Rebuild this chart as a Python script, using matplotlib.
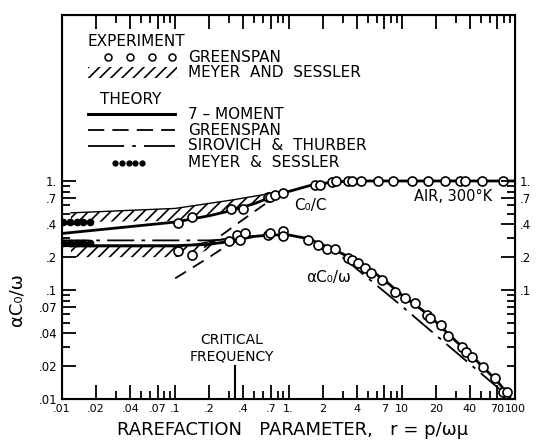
import matplotlib
matplotlib.use('Agg')
import matplotlib.pyplot as plt
from matplotlib.patches import Rectangle
from matplotlib.ticker import FixedLocator, NullFormatter

plt.rcParams['font.family'] = 'DejaVu Sans'
plt.rcParams['hatch.linewidth'] = 1.2

# Greenspan experiment (circles)
exp_c_r = [0.106, 0.14, 0.31, 0.40, 0.66, 0.69, 0.76, 0.9, 1.71, 1.89, 2.4, 2.65,
           3.37, 3.6, 4.4, 6.2, 8.4, 12.2, 17.2, 24, 33, 36.5, 51, 79]
exp_c_y = [0.41, 0.47, 0.55, 0.55, 0.72, 0.71, 0.74, 0.77, 0.92, 0.92, 0.98, 0.99,
           1.0, 1.0, 1.0, 1.0, 1.0, 1.0, 1.0, 1.0, 1.0, 1.0, 1.0, 1.0]
exp_a_r = [0.106, 0.14, 0.30, 0.35, 0.37, 0.41, 0.66, 0.68, 0.9, 0.9, 1.5, 1.83, 2.2,
           2.6, 3.37, 3.6, 4.1, 4.7, 5.4, 6.7, 8.7, 10.6, 13.1, 16.7, 17.8, 22, 25.6,
           33.8, 36.9, 41.5, 52.5, 66.5, 78, 85]
exp_a_y = [0.23, 0.21, 0.28, 0.32, 0.29, 0.33, 0.32, 0.33, 0.35, 0.31, 0.29, 0.26, 0.24,
           0.236, 0.195, 0.19, 0.176, 0.158, 0.142, 0.123, 0.096, 0.085, 0.076, 0.059,
           0.055, 0.048, 0.038, 0.030, 0.027, 0.0245, 0.0195, 0.0155, 0.0115, 0.0115]

# 7-moment theory
mom_c_r = [0.01, 0.03, 0.1, 0.2, 0.3, 0.5, 0.7, 1.0, 1.5, 2.0, 3.0, 5.0, 100]
mom_c_y = [0.33, 0.37, 0.42, 0.48, 0.53, 0.62, 0.71, 0.8, 0.9, 0.95, 0.99, 1.0, 1.0]
mom_a_r = [0.01, 0.1, 0.2, 0.3, 0.5, 0.7, 1.0, 1.5, 2.0, 3.0, 4.0, 5.0, 7.0, 10, 15,
           20, 30, 40, 50, 70, 90]
mom_a_y = [0.255, 0.255, 0.262, 0.28, 0.31, 0.32, 0.32, 0.295, 0.26, 0.215, 0.182,
           0.158, 0.124, 0.09, 0.066, 0.051, 0.034, 0.026, 0.0205, 0.0145, 0.0105]

# Greenspan theory (dashed)
gs_c_r = [0.18, 0.28, 0.37, 0.52, 0.7, 1.0]
gs_c_y = [0.245, 0.34, 0.42, 0.54, 0.67, 0.8]
gs_a_r = [0.1, 0.2, 0.29, 0.45, 0.7]
gs_a_y = [0.128, 0.20, 0.258, 0.31, 0.32]

# Sirovich & Thurber (dash-dot)
sir_lo_r = [0.01, 0.2, 0.35]
sir_lo_y = [0.285, 0.285, 0.295]
sir_hi_r = [3, 9, 79]
sir_hi_y = [0.2, 0.078, 0.0115]

# Meyer & Sessler theory (dots)
ms_r = [0.0102, 0.0118, 0.0136, 0.0153, 0.0177]
ms_c_y = [0.42, 0.42, 0.42, 0.42, 0.42]
ms_a_y = [0.268, 0.268, 0.268, 0.268, 0.268]

# Meyer and Sessler experiment (hatched bands)
band_c_r = [0.012, 0.1, 0.32, 0.56, 0.9]
band_c_hi = [0.51, 0.56, 0.67, 0.74, 0.8]
band_c_lo = [0.42, 0.43, 0.54, 0.66, 0.77]
band_a_r = [0.012, 0.1, 0.16, 0.3]
band_a_hi = [0.25, 0.25, 0.265, 0.3]
band_a_lo = [0.2, 0.2, 0.215, 0.28]

crit_r = 0.34

x_ticks = [0.01, 0.02, 0.04, 0.07, 0.1, 0.2, 0.4, 0.7, 1, 2, 4, 7, 10, 20, 40, 70, 100]
x_labels = ['.01', '.02', '.04', '.07', '.1', '.2', '.4', '.7', '1.', '2', '4', '7',
            '10', '20', '40', '70', '100']
x_minor = [0.03, 0.05, 0.06, 0.08, 0.09, 0.3, 0.5, 0.6, 0.8, 0.9, 3, 5, 6, 8, 9,
           30, 50, 60, 80, 90]
y_ticks = [0.01, 0.02, 0.04, 0.07, 0.1, 0.2, 0.4, 0.7, 1]
y_labels = ['.01', '.02', '.04', '.07', '.1', '.2', '.4', '.7', '1.']
y_minor = [0.03, 0.05, 0.06, 0.08, 0.09, 0.3, 0.5, 0.6, 0.8, 0.9]
yr_ticks = [0.1, 0.2, 0.4, 0.7, 1]
yr_labels = ['.1', '.2', '.4', '.7', '1.']
yr_minor = [0.02, 0.03, 0.04, 0.05, 0.06, 0.07, 0.08, 0.09, 0.3, 0.5, 0.6, 0.8, 0.9]

fig = plt.figure(figsize=(5.38, 4.48), dpi=100)
ax = fig.add_axes([62 / 538, 1 - 399 / 448, 453 / 538, 384 / 448])
ax.set_xscale('log')
ax.set_yscale('log')

# hatched bands
for r, lo, hi in [(band_c_r, band_c_lo, band_c_hi), (band_a_r, band_a_lo, band_a_hi)]:
    ax.fill_between(r, lo, hi, facecolor='none', edgecolor='k', hatch='///', linewidth=0)
    ax.plot(r, hi, 'k-', lw=1)

ax.plot(mom_c_r, mom_c_y, 'k-', lw=2)
ax.plot(mom_a_r, mom_a_y, 'k-', lw=2)
ax.plot(gs_c_r, gs_c_y, 'k', lw=1.3, dashes=(7, 4.5))
ax.plot(gs_a_r, gs_a_y, 'k', lw=1.3, dashes=(7, 4.5))
ax.plot(sir_lo_r, sir_lo_y, 'k', lw=1.3, dashes=(15, 4, 2, 4))
ax.plot(sir_hi_r, sir_hi_y, 'k', lw=1.3, dashes=(15, 4, 2, 4))
ax.plot(ms_r, ms_c_y, 'ko', ms=4.5, ls='none')
ax.plot(ms_r, ms_a_y, 'ko', ms=4.5, ls='none')
ax.plot(exp_c_r, exp_c_y, 'o', mfc='white', mec='k', ms=6.5, mew=1.2, ls='none', zorder=5)
ax.plot(exp_a_r, exp_a_y, 'o', mfc='white', mec='k', ms=6.5, mew=1.2, ls='none', zorder=5)
ax.plot([crit_r, crit_r], [0.01, 0.02], 'k-', lw=1.5)

ax.text(1.55, 0.6, 'C₀/C', fontsize=11, ha='center', va='center')
ax.text(2.25, 0.13, 'αC₀/ω', fontsize=11, ha='center', va='center')
ax.text(0.949, 0.527, 'AIR, 300°K', fontsize=10.5, ha='right', va='center',
        transform=ax.transAxes)
ax.text(0.375, 0.133, 'CRITICAL\nFREQUENCY', fontsize=10, ha='center', va='center',
        transform=ax.transAxes, linespacing=1.2)

# legend drawn by hand
tA = ax.transAxes
fs = 11
ax.text(0.057, 0.932, 'EXPERIMENT', fontsize=fs, va='center', transform=tA)
ax.plot([0.1015, 0.150, 0.1987, 0.243], [0.8906] * 4, 'o', mfc='white', mec='k', ms=5,
        mew=1.1, transform=tA)
ax.text(0.278, 0.8906, 'GREENSPAN', fontsize=fs, va='center', transform=tA)
ax.add_patch(Rectangle((0.057, 0.836), 0.197, 0.029, transform=tA, facecolor='none',
                       edgecolor='k', hatch='///', lw=0))
ax.text(0.278, 0.849, 'MEYER  AND  SESSLER', fontsize=fs, va='center', transform=tA)
ax.text(0.084, 0.781, 'THEORY', fontsize=fs, va='center', transform=tA)
ax.plot([0.057, 0.249], [0.742, 0.742], 'k-', lw=2.2, transform=tA)
ax.text(0.278, 0.742, '7 – MOMENT', fontsize=fs, va='center', transform=tA)
ax.plot([0.057, 0.249], [0.7005, 0.7005], 'k', lw=1.3, dashes=(9, 4.5), transform=tA)
ax.text(0.278, 0.7005, 'GREENSPAN', fontsize=fs, va='center', transform=tA)
ax.plot([0.057, 0.249], [0.659, 0.659], 'k', lw=1.3, dashes=(20, 4.5, 2, 4.5), transform=tA)
ax.text(0.278, 0.659, 'SIROVICH  &  THURBER', fontsize=fs, va='center', transform=tA)
ax.plot([0.117, 0.132, 0.147, 0.162, 0.177], [0.6146] * 5, 'ko', ms=3.5, transform=tA)
ax.text(0.278, 0.6146, 'MEYER  &  SESSLER', fontsize=fs, va='center', transform=tA)

ax.set_xlim(0.01, 100)
ax.set_ylim(0.01, 33.3)
ax.xaxis.set_major_locator(FixedLocator(x_ticks))
ax.set_xticklabels(x_labels)
ax.xaxis.set_minor_locator(FixedLocator(x_minor))
ax.xaxis.set_minor_formatter(NullFormatter())
ax.yaxis.set_major_locator(FixedLocator(y_ticks))
ax.set_yticklabels(y_labels)
ax.yaxis.set_minor_locator(FixedLocator(y_minor))
ax.yaxis.set_minor_formatter(NullFormatter())
for s in ax.spines.values():
    s.set_linewidth(1.5)

ax2 = ax.twinx()
ax2.set_yscale('log')
ax2.set_ylim(0.01, 33.3)
ax2.yaxis.set_major_locator(FixedLocator(yr_ticks))
ax2.set_yticklabels(yr_labels)
ax2.yaxis.set_minor_locator(FixedLocator(yr_minor))
ax2.yaxis.set_minor_formatter(NullFormatter())
ax2.tick_params(which='both', direction='in', width=1.3, labelsize=8.5)
ax2.tick_params(which='major', length=10)
ax2.tick_params(which='minor', length=6)

ax.tick_params(axis='x', which='both', top=True, bottom=True, direction='in', width=1.3,
               labelsize=8)
ax.tick_params(axis='y', which='both', left=True, right=False, direction='in', width=1.3,
               labelsize=8.5)
ax.tick_params(which='major', length=10)
ax.tick_params(which='minor', length=6)

fig.text(293 / 538, 1 - 430 / 448, 'RAREFACTION   PARAMETER,   r = p/ωμ', fontsize=13,
         ha='center', va='center')
fig.text(17 / 538, 1 - 300 / 448, 'αC₀/ω', fontsize=13, rotation=90, ha='center',
         va='center')

fig.savefig('out.png', dpi=100)
